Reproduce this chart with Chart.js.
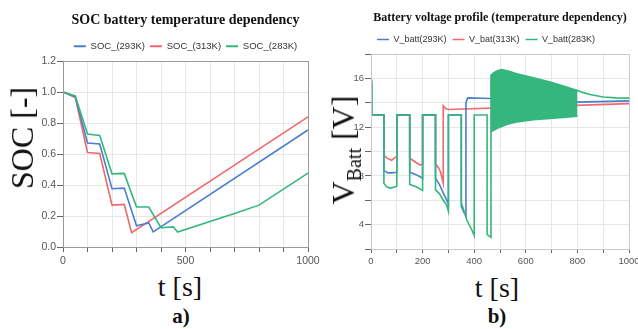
<!DOCTYPE html>
<html>
<head>
<meta charset="utf-8">
<script src="https://cdn.jsdelivr.net/npm/chart.js@4.4.0/dist/chart.umd.min.js"></script>
<style>
body{margin:0;background:#fff;width:638px;height:329px;overflow:hidden;position:relative;font-family:"Liberation Serif","Times New Roman",serif}
canvas{position:absolute;top:0}
.lab{position:absolute;color:#111;white-space:nowrap;line-height:1;transform:translate(-50%,-50%)}
.rot{transform:translate(-50%,-50%) rotate(-90deg)}
</style>
</head>
<body>
<canvas id="soc" width="320" height="269" style="left:0"></canvas>
<canvas id="volt" width="318" height="271" style="left:320px"></canvas>

<div class="lab rot" style="left:22px;top:138px;font-size:32px">SOC [-]</div>
<div class="lab" style="left:180px;top:287px;font-size:28px">t [s]</div>
<div class="lab" style="left:181px;top:316px;font-size:21px;font-weight:bold">a)</div>

<div class="lab rot" style="left:343px;top:150px;font-size:32px">V<span style="font-size:20px;position:relative;top:7px">Batt</span> [V]</div>
<div class="lab" style="left:497px;top:288px;font-size:28px">t [s]</div>
<div class="lab" style="left:497px;top:316px;font-size:21px;font-weight:bold">b)</div>

<script>
// a) SOC vs time
var socLabels = ['SOC_(293K)', 'SOC_(313K)', 'SOC_(283K)'];
var socTickX = [0, 500, 1000];
var t293 = [0, 50, 100, 150, 200, 250, 300, 350, 368, 1000];
var soc293 = [1.0, 0.97, 0.671, 0.665, 0.376, 0.38, 0.137, 0.155, 0.098, 0.755];
var t313 = [0, 50, 100, 150, 200, 250, 280, 1000];
var soc313 = [1.0, 0.965, 0.61, 0.603, 0.27, 0.275, 0.092, 0.84];
var t283 = [0, 50, 100, 150, 200, 250, 300, 350, 400, 450, 468, 700, 800, 1000];
var soc283 = [1.0, 0.975, 0.729, 0.72, 0.472, 0.475, 0.258, 0.258, 0.124, 0.13, 0.096, 0.216, 0.27, 0.477];

// b) battery voltage vs time
var voltLabels = ['V_batt(293K)', 'V_bat(313K)', 'V_batt(283K)'];
var voltTickX = [0, 200, 400, 600, 800, 1000];
var voltTickY = [4, 8, 12, 16];
var tv293 = [0, 3, 50, 50, 65, 80, 100, 100, 150, 150, 175, 200, 200, 250, 250, 265, 280, 300, 300, 350, 350, 360, 368, 368, 375, 465, 800, 1000];
var vb293 = [15.9, 13.0, 13.0, 8.45, 8.25, 8.25, 8.3, 13.0, 13.0, 8.3, 8.1, 7.8, 13.0, 13.0, 7.8, 7.3, 6.6, 5.7, 13.0, 13.0, 5.5, 5.0, 4.75, 14.0, 14.4, 14.35, 14.05, 14.15];
var tv313 = [0, 50, 50, 62, 80, 92, 100, 100, 150, 150, 175, 190, 200, 200, 250, 250, 262, 270, 280, 280, 290, 300, 1000];
var vb313 = [13.0, 13.0, 9.7, 9.45, 9.28, 9.5, 9.55, 13.0, 13.0, 9.45, 9.1, 8.9, 8.95, 13.0, 13.0, 9.0, 8.65, 8.3, 7.4, 13.75, 13.5, 13.45, 13.93];
var tv283 = [0, 3, 50, 50, 60, 75, 95, 100, 100, 150, 150, 175, 200, 200, 250, 250, 265, 280, 293, 300, 300, 350, 350, 371, 390, 400, 400, 450, 450, 465, 465, 800, 820, 849, 900, 950, 1000];
var vb283 = [15.6, 13.0, 13.0, 7.4, 7.1, 7.0, 7.1, 7.15, 13.0, 13.0, 7.3, 7.1, 6.8, 13.0, 13.0, 6.85, 6.55, 6.0, 5.6, 5.1, 13.0, 13.0, 5.8, 4.4, 3.6, 3.1, 13.0, 13.0, 3.2, 2.95, 16.24, 15.0, 14.85, 14.67, 14.47, 14.4, 14.38];
// envelope of the fast oscillation (283K) between 465 s and 800 s
var tBand = [465, 475, 490, 506, 532, 565, 629, 694, 745, 800];
var bandTop = [16.24, 16.45, 16.62, 16.72, 16.6, 16.38, 16.05, 15.7, 15.37, 15.0];
var bandBottom = [11.62, 11.75, 11.9, 12.05, 12.25, 12.43, 12.6, 12.71, 12.8, 12.9];

var blue = 'rgb(74,126,208)';
var red = 'rgb(240,104,106)';
var green = 'rgb(52,182,124)';
var sans = '"Liberation Sans", Arial, sans-serif';

function pts(t, v){
  var list = [];
  for(var i=0;i<t.length;i++){
    list.push({x: t[i], y: v[i]});
  }
  return list;
}
function line(label, t, v, color){
  return {label: label, data: pts(t, v), borderColor: color, backgroundColor: color,
    borderWidth: 1.6, pointRadius: 0, tension: 0, fill: false};
}
function legendItems(rank, hide){
  return function(chart){
    var items = Chart.defaults.plugins.legend.labels.generateLabels(chart);
    items = items.filter(function(it){ return hide.indexOf(it.datasetIndex) < 0; });
    items.forEach(function(it){ it.lineWidth = 0; it.fillStyle = it.strokeStyle; });
    items.sort(function(a, b){ return rank[a.datasetIndex] - rank[b.datasetIndex]; });
    return items;
  };
}
// box round the plot area
var frame = {
  id: 'frame',
  afterDraw: function(chart, args, opts){
    var a = chart.chartArea, ctx = chart.ctx;
    ctx.save();
    ctx.strokeStyle = opts.color;
    ctx.lineWidth = 1;
    ctx.strokeRect(a.left + 0.5, a.top + 0.5, a.right - a.left, a.bottom - a.top);
    ctx.restore();
  }
};
function fixY(w){
  return function(s){ s.width = w; s.paddingTop = 0; s.paddingBottom = 0; };
}
function fixX(h){
  return function(s){ s.height = h; s.paddingLeft = 0; s.paddingRight = 0; };
}

new Chart(document.getElementById('soc'), {
  type: 'line',
  data: {datasets: [
    line(socLabels[2], t283, soc283, green),
    line(socLabels[0], t293, soc293, blue),
    line(socLabels[1], t313, soc313, red)
  ]},
  plugins: [frame],
  options: {
    responsive: false,
    animation: false,
    layout: {padding: {left: 0, right: 12, top: 0, bottom: 0}},
    plugins: {
      frame: {color: '#9a9a9a'},
      tooltip: {enabled: false},
      title: {display: true, fullSize: false, text: 'SOC battery temperature dependency', color: '#111',
        font: {family: '"Liberation Serif", serif', size: 14, weight: 'bold'},
        padding: {top: 11.6, bottom: 8.1}},
      legend: {fullSize: false, labels: {boxWidth: 12, boxHeight: 2, padding: 5, color: '#333',
        font: {family: sans, size: 9.5},
        generateLabels: legendItems({0: 2, 1: 0, 2: 1}, [])}}
    },
    scales: {
      x: {type: 'linear', min: 0, max: 1000,
        afterFit: fixX(22),
        border: {color: '#666'},
        grid: {color: '#e6e6e6', tickColor: '#666', tickLength: 5},
        ticks: {stepSize: 100, autoSkip: false, maxRotation: 0, padding: 3, color: '#555',
          font: {family: sans, size: 10.5},
          callback: function(v){ return socTickX.indexOf(v) >= 0 ? String(v) : ''; }}},
      y: {min: 0, max: 1.2,
        afterFit: fixY(63),
        border: {color: '#666'},
        grid: {color: '#e6e6e6', tickColor: '#666', tickLength: 6},
        ticks: {stepSize: 0.2, padding: 1, color: '#555',
          font: {family: sans, size: 10.5},
          callback: function(v){ return Number(v).toFixed(1); }}}
    }
  }
});

var bandTopSet = line('band top', tBand, bandTop, green);
var bandBottomSet = line('band bottom', tBand, bandBottom, green);
bandBottomSet.fill = '-1';

new Chart(document.getElementById('volt'), {
  type: 'line',
  data: {datasets: [
    bandTopSet,
    bandBottomSet,
    line(voltLabels[2], tv283, vb283, green),
    line(voltLabels[0], tv293, vb293, blue),
    line(voltLabels[1], tv313, vb313, red)
  ]},
  plugins: [frame],
  options: {
    responsive: false,
    animation: false,
    layout: {padding: {left: 0, right: 9, top: 0, bottom: 0}},
    plugins: {
      frame: {color: '#c8c8c8'},
      tooltip: {enabled: false},
      title: {display: true, fullSize: false, text: 'Battery voltage profile (temperature dependency)', color: '#111',
        font: {family: '"Liberation Serif", serif', size: 12, weight: 'bold'},
        padding: {top: 10.8, bottom: 3.8}},
      legend: {fullSize: false, align: 'start', labels: {boxWidth: 12, boxHeight: 1.5, padding: 6, color: '#333',
        font: {family: sans, size: 9},
        generateLabels: legendItems({2: 2, 3: 0, 4: 1}, [0, 1])}}
    },
    scales: {
      x: {type: 'linear', min: 0, max: 1000,
        afterFit: fixX(22),
        border: {color: '#666'},
        grid: {color: '#e6e6e6', tickColor: '#666', tickLength: 4},
        ticks: {stepSize: 100, autoSkip: false, maxRotation: 0, padding: 3, color: '#555',
          font: {family: sans, size: 9.5},
          callback: function(v){ return voltTickX.indexOf(v) >= 0 ? String(v) : ''; }}},
      y: {min: 2, max: 18,
        afterFit: fixY(51),
        border: {color: '#666'},
        grid: {color: '#e6e6e6', tickColor: '#666', tickLength: 6},
        ticks: {stepSize: 2, autoSkip: false, padding: 1, color: '#555',
          font: {family: sans, size: 9.5},
          callback: function(v){ return voltTickY.indexOf(v) >= 0 ? String(v) : ''; }}}
    }
  }
});
</script>
</body>
</html>
